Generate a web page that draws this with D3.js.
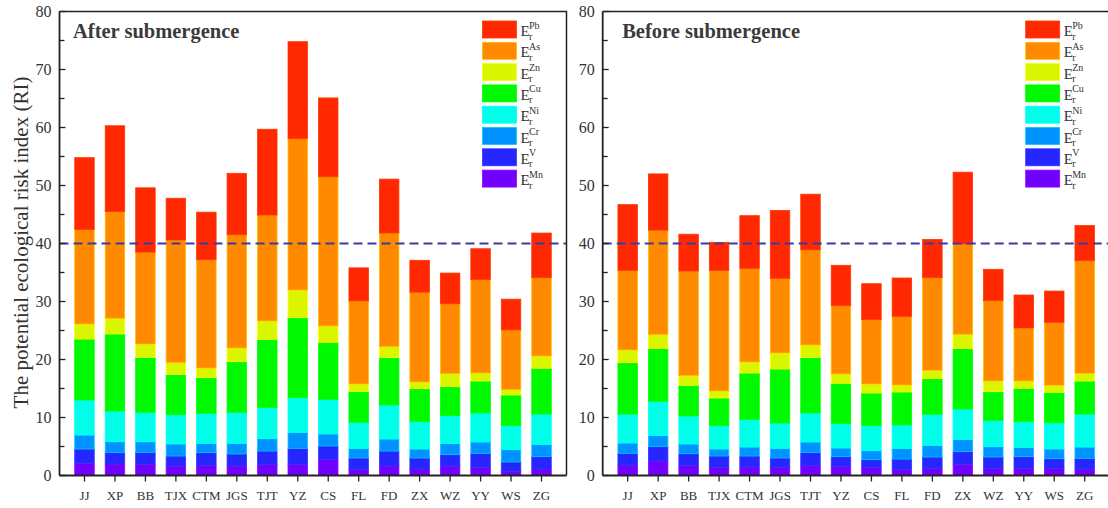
<!DOCTYPE html>
<html>
<head>
<meta charset="utf-8">
<script src="https://cdn.jsdelivr.net/npm/d3@7"></script>
<style>
  body { margin: 0; background: #fff; }
  svg { font-family: "Liberation Serif", "Times New Roman", serif; }
</style>
</head>
<body>
<svg id="chart" width="1108" height="508"></svg>
<script>
const sites = ["JJ", "XP", "BB", "TJX", "CTM", "JGS", "TJT", "YZ", "CS", "FL", "FD", "ZX", "WZ", "YY", "WS", "ZG"];
const elements = ["Mn", "V", "Cr", "Ni", "Cu", "Zn", "As", "Pb"]; // bottom -> top
const colors = ["#7000ff", "#2626ff", "#0092ff", "#00ffe8", "#00f800", "#d9f500", "#ff8a00", "#ff2800"];
const yTicks = [0, 10, 20, 30, 40, 50, 60, 70, 80];

// After submergence
const afterMn = [2.10, 1.98, 1.93, 1.64, 1.75, 1.64, 1.87, 1.93, 2.73, 1.06, 1.64, 1.12, 1.64, 1.35, 0.72, 1.12];
const afterV  = [2.47, 1.96, 2.06, 1.72, 2.19, 2.07, 2.35, 2.75, 2.36, 1.96, 2.58, 1.90, 1.95, 2.47, 1.61, 2.13];
const afterCr = [2.41, 1.89, 1.84, 2.07, 1.61, 1.84, 2.13, 2.71, 2.07, 1.61, 2.07, 1.55, 1.90, 1.96, 2.12, 2.07];
const afterNi = [6.04, 5.29, 5.06, 5.06, 5.17, 5.34, 5.40, 6.03, 5.97, 4.54, 5.87, 4.71, 4.83, 5.00, 4.14, 5.28];
const afterCu = [10.51, 13.28, 9.48, 6.90, 6.15, 8.74, 11.73, 13.79, 9.83, 5.34, 8.16, 5.69, 5.00, 5.51, 5.29, 7.88];
const afterZn = [2.59, 2.70, 2.30, 2.06, 1.66, 2.35, 3.16, 4.77, 2.82, 1.27, 1.89, 1.15, 2.24, 1.38, 0.92, 2.12];
const afterAs = [16.28, 18.40, 15.83, 21.15, 18.67, 19.52, 18.26, 26.12, 25.72, 14.32, 19.59, 15.48, 12.04, 16.13, 10.30, 13.50];
const afterPb = [12.40, 14.80, 11.10, 7.20, 8.20, 10.60, 14.80, 16.70, 13.60, 5.70, 9.30, 5.50, 5.30, 5.30, 5.30, 7.70];

// Before submergence
const beforeMn = [1.81, 2.50, 1.75, 1.41, 1.47, 1.41, 1.70, 1.58, 1.35, 1.00, 1.18, 1.93, 1.24, 1.24, 1.24, 1.12];
const beforeV  = [2.01, 2.47, 2.01, 1.95, 1.89, 1.61, 2.24, 1.67, 1.38, 1.84, 2.01, 2.18, 1.95, 2.01, 1.66, 1.84];
const beforeCr = [1.78, 1.90, 1.67, 1.21, 1.55, 1.66, 1.84, 1.49, 1.55, 1.79, 2.01, 2.07, 1.78, 1.61, 1.67, 1.95];
const beforeNi = [5.00, 5.92, 4.83, 4.02, 4.77, 4.37, 5.00, 4.20, 4.31, 4.08, 5.35, 5.29, 4.54, 4.42, 4.54, 5.69];
const beforeCu = [8.85, 9.08, 5.29, 4.77, 7.99, 9.31, 9.54, 6.95, 5.63, 5.69, 6.15, 10.40, 4.94, 5.75, 5.23, 5.69];
const beforeZn = [2.19, 2.41, 1.66, 1.21, 1.90, 2.76, 2.18, 1.61, 1.56, 1.20, 1.43, 2.47, 1.84, 1.26, 1.21, 1.32];
const beforeAs = [13.73, 18.02, 18.04, 20.80, 16.15, 12.88, 16.40, 11.78, 11.09, 11.84, 15.98, 15.56, 13.85, 9.14, 10.86, 19.43];
const beforePb = [11.33, 9.70, 6.35, 4.83, 9.08, 11.70, 9.60, 6.96, 6.20, 6.61, 6.59, 12.40, 5.41, 5.69, 5.39, 6.06];

const threshold = 40;

const svg = d3.select("#chart");
const panelW = 507;
const plotTop = 11.5, plotBottom = 475.5;

const y = d3.scaleLinear().domain([0, 80]).range([plotBottom, plotTop]);
const x = d3.scaleBand().domain(sites).range([0, panelW]).paddingInner(0.36).paddingOuter(0.5);
const color = d3.scaleOrdinal().domain(elements).range(colors);

function makeTable(cols) {
    return sites.map((s, i) => {
        const row = { site: s };
        elements.forEach((e, k) => row[e] = cols[k][i]);
        return row;
    });
}

function drawPanel(x0, title, titleX, cols) {
    const g = svg.append("g").attr("transform", `translate(${x0},0)`);
    const series = d3.stack().keys(elements)(makeTable(cols));

    g.selectAll("g.layer")
        .data(series)
        .join("g")
        .attr("class", "layer")
        .attr("fill", d => color(d.key))
        .attr("stroke", d => d3.color(color(d.key)).brighter(0.9))
        .attr("stroke-width", 0.8)
        .selectAll("rect")
        .data(d => d)
        .join("rect")
        .attr("x", d => x(d.data.site))
        .attr("width", x.bandwidth())
        .attr("y", d => y(d[1]))
        .attr("height", d => y(d[0]) - y(d[1]));

    // 40 reference line
    g.append("line")
        .attr("x1", 0).attr("x2", panelW)
        .attr("y1", y(threshold)).attr("y2", y(threshold))
        .attr("stroke", "#3a3aa6")
        .attr("stroke-width", 2)
        .attr("stroke-dasharray", "9,5");

    // frame (top and right)
    g.append("path")
        .attr("d", `M0,${plotTop}H${panelW}V${plotBottom}`)
        .attr("fill", "none")
        .attr("stroke", "#222")
        .attr("stroke-width", 1.5);

    // y axis, ticks inside
    const yAxis = g.append("g");
    yAxis.append("line")
        .attr("x1", 0).attr("x2", 0).attr("y1", plotTop).attr("y2", plotBottom)
        .attr("stroke", "#222").attr("stroke-width", 1.8);
    yAxis.selectAll("line.minor")
        .data(d3.range(0, 81, 5))
        .join("line")
        .attr("class", "minor")
        .attr("x1", 0).attr("x2", d => d % 10 === 0 ? 6 : 5)
        .attr("y1", d => y(d)).attr("y2", d => y(d))
        .attr("stroke", "#222").attr("stroke-width", 1.3);
    yAxis.selectAll("text")
        .data(yTicks)
        .join("text")
        .attr("x", -8)
        .attr("y", d => y(d))
        .attr("dy", "0.35em")
        .attr("text-anchor", "end")
        .attr("font-size", 16)
        .attr("fill", "#333")
        .text(d => d);

    // x axis
    const xAxis = g.append("g").attr("transform", `translate(0,${plotBottom})`);
    xAxis.append("line")
        .attr("x1", 0).attr("x2", panelW)
        .attr("stroke", "#222").attr("stroke-width", 1.8);
    xAxis.selectAll("line.tick")
        .data(sites)
        .join("line")
        .attr("class", "tick")
        .attr("x1", d => x(d) + x.bandwidth() / 2)
        .attr("x2", d => x(d) + x.bandwidth() / 2)
        .attr("y1", 0).attr("y2", 6)
        .attr("stroke", "#222").attr("stroke-width", 1.3);
    xAxis.selectAll("text")
        .data(sites)
        .join("text")
        .attr("x", d => x(d) + x.bandwidth() / 2)
        .attr("y", 24)
        .attr("text-anchor", "middle")
        .attr("font-size", 13)
        .attr("fill", "#333")
        .text(d => d);

    // title
    g.append("text")
        .attr("x", titleX)
        .attr("y", 37.5)
        .attr("font-size", 20.5)
        .attr("font-weight", "bold")
        .attr("fill", "#3a3a3a")
        .text(title);

    // legend (Pb at top)
    const legend = g.append("g").attr("transform", "translate(423,21)");
    const items = elements.slice().reverse();
    const row = legend.selectAll("g")
        .data(items)
        .join("g")
        .attr("transform", (d, i) => `translate(0,${i * 21.3})`);
    row.append("rect")
        .attr("width", 34).attr("height", 17)
        .attr("fill", d => color(d))
        .attr("stroke", d => d3.color(color(d)).brighter(0.9))
        .attr("stroke-width", 0.8);
    row.append("text")
        .attr("x", 38).attr("y", 15)
        .attr("font-size", 15)
        .attr("fill", "#333")
        .text("E");
    row.append("text")
        .attr("x", 46.5).attr("y", 7.5)
        .attr("font-size", 10)
        .attr("fill", "#333")
        .text(d => d);
    row.append("text")
        .attr("x", 46.5).attr("y", 18.5)
        .attr("font-size", 10)
        .attr("fill", "#333")
        .text("r");
}

drawPanel(59.5, "After submergence", 13.5,
    [afterMn, afterV, afterCr, afterNi, afterCu, afterZn, afterAs, afterPb]);
drawPanel(602.7, "Before submergence", 19.5,
    [beforeMn, beforeV, beforeCr, beforeNi, beforeCu, beforeZn, beforeAs, beforePb]);

// shared y axis title
svg.append("text")
    .attr("transform", "translate(28,242.5) rotate(-90)")
    .attr("text-anchor", "middle")
    .attr("font-size", 21)
    .attr("fill", "#333")
    .text("The potential ecological risk index (RI)");
</script>
</body>
</html>
